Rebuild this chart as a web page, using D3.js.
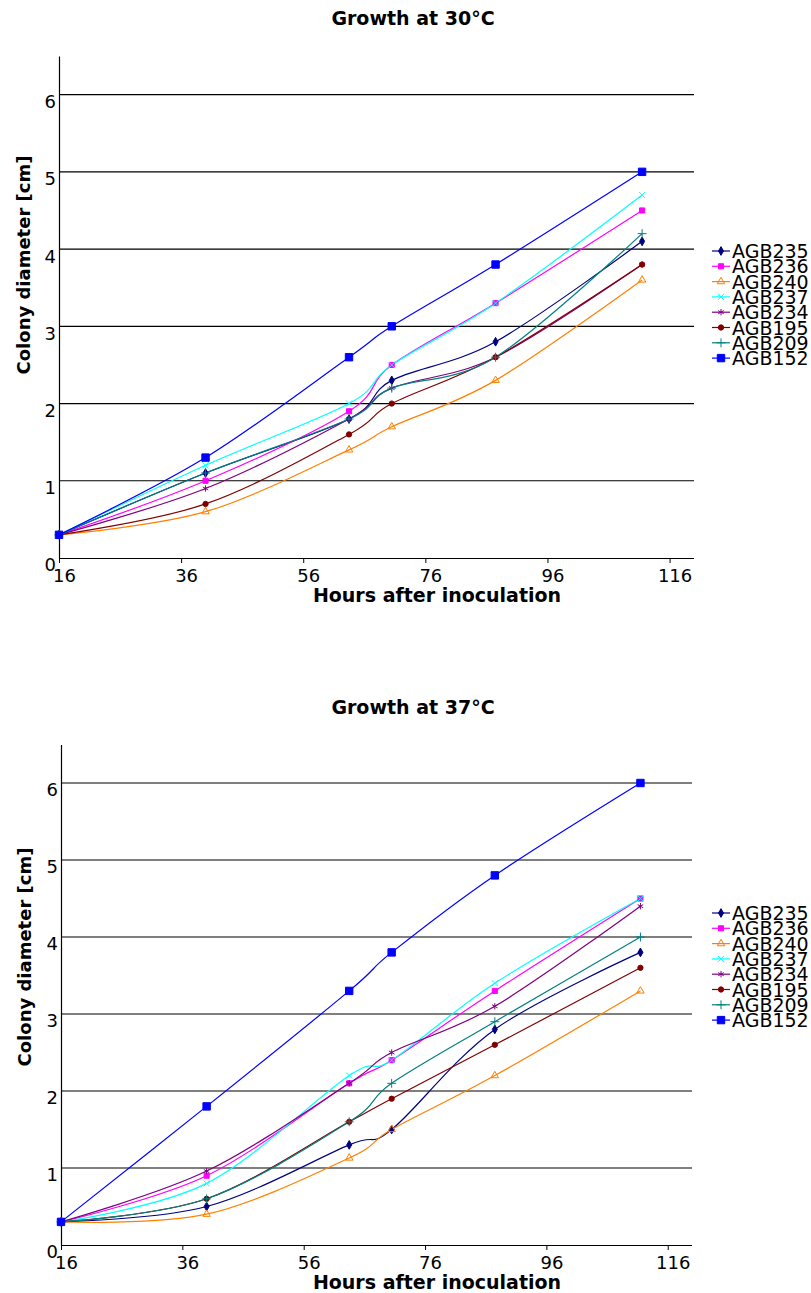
<!DOCTYPE html>
<html>
<head>
<meta charset="utf-8">
<script src="https://cdn.jsdelivr.net/npm/d3@7"></script>
<style>
  body { margin: 0; background: #fff; }
  svg { display: block; font-family: "DejaVu Sans", Verdana, sans-serif; }
</style>
</head>
<body>
<div id="chart"></div>
<script>
// Sampling times (hours after inoculation)
const hours = [16, 40, 63.5, 70.5, 87.5, 111.5];

const strains = ["AGB235", "AGB236", "AGB240", "AGB237", "AGB234", "AGB195", "AGB209", "AGB152"];
const strainColors = ["#000080", "#ff00ff", "#ff8000", "#00ffff", "#800080", "#800000", "#008080", "#0000ff"];

const xTicks = [16, 36, 56, 76, 96, 116];
const yTicks = [0, 1, 2, 3, 4, 5, 6];

// Colony diameter [cm] at 30°C
const agb235at30 = [0.3, 1.1, 1.8, 2.3, 2.8, 4.1];
const agb236at30 = [0.3, 1.0, 1.9, 2.5, 3.3, 4.5];
const agb240at30 = [0.3, 0.6, 1.4, 1.7, 2.3, 3.6];
const agb237at30 = [0.3, 1.2, 2.0, 2.5, 3.3, 4.7];
const agb234at30 = [0.3, 0.9, 1.8, 2.2, 2.6, 3.8];
const agb195at30 = [0.3, 0.7, 1.6, 2.0, 2.6, 3.8];
const agb209at30 = [0.3, 1.1, 1.8, 2.2, 2.6, 4.2];
const agb152at30 = [0.3, 1.3, 2.6, 3.0, 3.8, 5.0];

// Colony diameter [cm] at 37°C
const agb235at37 = [0.3, 0.5, 1.3, 1.5, 2.8, 3.8];
const agb236at37 = [0.3, 0.9, 2.1, 2.4, 3.3, 4.5];
const agb240at37 = [0.3, 0.4, 1.13, 1.5, 2.2, 3.3];
const agb237at37 = [0.3, 0.8, 2.2, 2.4, 3.4, 4.5];
const agb234at37 = [0.3, 0.96, 2.1, 2.5, 3.1, 4.4];
const agb195at37 = [0.3, 0.6, 1.6, 1.9, 2.6, 3.6];
const agb209at37 = [0.3, 0.6, 1.6, 2.1, 2.9, 4.0];
const agb152at37 = [0.3, 1.8, 3.3, 3.8, 4.8, 6.0];

const series30 = [agb235at30, agb236at30, agb240at30, agb237at30, agb234at30, agb195at30, agb209at30, agb152at30];
const series37 = [agb235at37, agb236at37, agb240at37, agb237at37, agb234at37, agb195at37, agb209at37, agb152at37];

// Marker per strain
const markerTypes = [
  { type: d3.symbolDiamond, size: 22, fill: true },
  { type: d3.symbolSquare, size: 26, fill: true },
  { type: d3.symbolTriangle, size: 24, fill: false },
  { type: d3.symbolTimes, size: 26, fill: false },
  { type: d3.symbolAsterisk, size: 28, fill: false },
  { type: d3.symbolCircle, size: 22, fill: true },
  { type: d3.symbolPlus, size: 28, fill: false },
  { type: d3.symbolSquare, size: 55, fill: true }
];

const width = 811;
const height = 1293;

const svg = d3
  .select("#chart")
  .append("svg")
  .attr("width", width)
  .attr("height", height);

// Draw one growth panel
function drawPanel(cfg) {
  const x = d3.scaleLinear().domain([16, 120]).range([cfg.left, cfg.right]);
  const y = d3.scaleLinear().domain([0, 6.5]).range([cfg.bottom, cfg.top]);

  const g = svg.append("g");

  // Title
  g.append("text")
    .attr("x", 413)
    .attr("y", cfg.titleY)
    .attr("text-anchor", "middle")
    .style("font-size", "19px")
    .style("font-weight", "bold")
    .text(cfg.title);

  // Horizontal gridlines
  g.selectAll("line.grid")
    .data(yTicks.filter((d) => d > 0))
    .enter()
    .append("line")
    .attr("class", "grid")
    .attr("x1", cfg.left)
    .attr("x2", cfg.right)
    .attr("y1", (d) => y(d))
    .attr("y2", (d) => y(d))
    .attr("stroke", "#000")
    .attr("stroke-width", 1.2);

  // X axis
  const xAxis = d3
    .axisBottom(x)
    .tickValues(xTicks)
    .tickSize(5)
    .tickFormat(d3.format("d"));
  const xg = g
    .append("g")
    .attr("transform", `translate(0,${cfg.bottom})`)
    .call(xAxis);
  xg.select(".domain").attr("d", `M${cfg.left},0.5H${cfg.right}`).attr("stroke-width", 1.2);
  xg.selectAll("text")
    .attr("dx", 5)
    .attr("dy", "0.9em")
    .style("font-size", "18px")
    .style("font-family", "DejaVu Sans");

  // Y axis
  const yAxis = d3.axisLeft(y).tickValues(yTicks).tickSize(0).tickFormat(d3.format("d"));
  const yg = g.append("g").attr("transform", `translate(${cfg.left},0)`).call(yAxis);
  yg.select(".domain").attr("stroke-width", 1.2);
  yg.selectAll("text")
    .attr("x", -3)
    .attr("dy", "0.72em")
    .style("font-size", "18px")
    .style("font-family", "DejaVu Sans");

  // Axis labels
  g.append("text")
    .attr("x", 437)
    .attr("y", cfg.bottom + 44)
    .attr("text-anchor", "middle")
    .style("font-size", "19px")
    .style("font-weight", "bold")
    .text("Hours after inoculation");

  g.append("text")
    .attr("transform", `translate(${cfg.yLabelX},${cfg.yLabelY}) rotate(-90)`)
    .attr("text-anchor", "middle")
    .style("font-size", "18px")
    .style("font-weight", "bold")
    .text("Colony diameter [cm]");

  // Series lines
  const line = d3
    .line()
    .x((d, i) => x(hours[i]))
    .y((d) => y(d))
    .curve(d3.curveCardinal.tension(0));

  cfg.series.forEach((vals, s) => {
    g.append("path")
      .attr("d", line(vals))
      .attr("fill", "none")
      .attr("stroke", strainColors[s])
      .attr("stroke-width", 1.2);
  });

  // Markers
  cfg.series.forEach((vals, s) => {
    const m = markerTypes[s];
    const sym = d3.symbol().type(m.type).size(m.size);
    g.selectAll(null)
      .data(vals)
      .enter()
      .append("path")
      .attr("d", sym)
      .attr("transform", (d, i) => `translate(${x(hours[i])},${y(d)})`)
      .attr("fill", m.fill ? strainColors[s] : "none")
      .attr("stroke", strainColors[s])
      .attr("stroke-width", 1);
  });

  // Legend
  const legend = g
    .selectAll("g.legend")
    .data(strains)
    .enter()
    .append("g")
    .attr("class", "legend")
    .attr("transform", (d, i) => `translate(712,${cfg.legendY + i * 15.3})`);

  legend
    .append("line")
    .attr("x1", 0)
    .attr("x2", 18)
    .attr("stroke", (d, i) => strainColors[i])
    .attr("stroke-width", 1.2);

  legend
    .append("path")
    .attr("d", (d, i) => d3.symbol().type(markerTypes[i].type).size(markerTypes[i].size)())
    .attr("transform", "translate(9,0)")
    .attr("fill", (d, i) => (markerTypes[i].fill ? strainColors[i] : "none"))
    .attr("stroke", (d, i) => strainColors[i]);

  legend
    .append("text")
    .attr("x", 20)
    .attr("y", 7)
    .style("font-size", "19px")
    .text((d) => d);
}

drawPanel({
  title: "Growth at 30°C",
  titleY: 25,
  left: 59,
  right: 694,
  top: 56,
  bottom: 558,
  yLabelX: 30,
  yLabelY: 265,
  legendY: 251,
  series: series30
});

drawPanel({
  title: "Growth at 37°C",
  titleY: 714,
  left: 61,
  right: 692,
  top: 744.5,
  bottom: 1245,
  yLabelX: 31,
  yLabelY: 957,
  legendY: 913,
  series: series37
});
</script>
</body>
</html>
